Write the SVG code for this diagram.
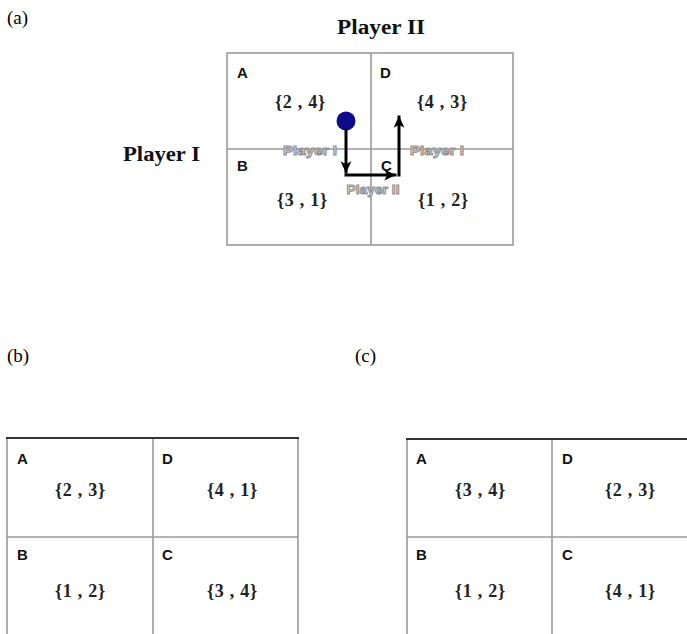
<svg xmlns="http://www.w3.org/2000/svg" width="687" height="634" viewBox="0 0 687 634">
<style>
.pl{font-family:"Liberation Serif","Times New Roman",serif;font-size:19px;fill:#000}
.hd{font-family:"Liberation Serif","Times New Roman",serif;font-size:20px;font-weight:bold;fill:#111}
.pay{font-family:"Liberation Serif","Times New Roman",serif;font-size:18px;font-weight:bold;fill:#222;text-anchor:middle}
.cl{font-family:"Liberation Sans",Arial,sans-serif;font-size:15px;font-weight:900;fill:#111}
.gl{font-family:"Liberation Sans",Arial,sans-serif;font-size:12px;font-weight:bold;fill:#e6e6e6;stroke:#8c8c8c;stroke-width:0.9;text-anchor:middle}
.grid{stroke:#9a9a9a;stroke-width:1.6;fill:none}
.top{stroke:#333;stroke-width:2;fill:none}
.arr{stroke:#000;stroke-width:3;fill:none;stroke-linecap:square}
</style>
<defs>
<marker id="ah" viewBox="0 0 10 10" refX="9" refY="5" markerWidth="12" markerHeight="12" markerUnits="userSpaceOnUse" orient="auto">
<path d="M0,0.5 L10,5 L0,9.5 L2.5,5 z" fill="#000"/>
</marker>
</defs>
<rect width="687" height="634" fill="#fff"/>

<g id="panel-labels">
<text class="pl" x="7" y="24">(a)</text>
<text class="pl" x="7" y="362">(b)</text>
<text class="pl" x="355" y="362">(c)</text>
</g>

<g id="heading-player2"><text class="hd" x="337" y="34" textLength="88" lengthAdjust="spacingAndGlyphs">Player II</text></g>
<g id="heading-player1"><text class="hd" x="123" y="161" textLength="77" lengthAdjust="spacingAndGlyphs">Player I</text></g>

<g id="table-a">
<rect class="grid" x="227" y="53" width="286" height="192"/>
<line class="grid" x1="371" y1="53" x2="371" y2="245"/>
<line class="grid" x1="227" y1="149" x2="513" y2="149"/>
<g id="a-cell-A"><text class="cl" x="237" y="78">A</text><text class="pay" x="300" y="108" textLength="50" lengthAdjust="spacing">{2 , 4}</text></g>
<g id="a-cell-D"><text class="cl" x="380" y="78">D</text><text class="pay" x="442" y="108" textLength="50" lengthAdjust="spacing">{4 , 3}</text></g>
<g id="a-cell-B"><text class="cl" x="237" y="171">B</text><text class="pay" x="302" y="206" textLength="50" lengthAdjust="spacing">{3 , 1}</text></g>
<g id="a-cell-C"><text class="cl" x="381" y="171">C</text><text class="pay" x="443" y="206" textLength="50" lengthAdjust="spacing">{1 , 2}</text></g>
</g>

<g id="start-dot"><circle cx="346" cy="121" r="9.5" fill="#0b0b8c"/></g>

<g id="connectors">
<line class="arr" x1="346" y1="130" x2="346" y2="172" marker-end="url(#ah)"/>
<line class="arr" x1="346" y1="175" x2="395" y2="175" marker-end="url(#ah)"/>
<line class="arr" x1="399" y1="175" x2="399" y2="117" marker-end="url(#ah)"/>
<text class="gl" x="310" y="155" textLength="54" lengthAdjust="spacingAndGlyphs">Player I</text>
<text class="gl" x="437" y="155" textLength="54" lengthAdjust="spacingAndGlyphs">Player I</text>
<text class="gl" x="373" y="194" textLength="53" lengthAdjust="spacingAndGlyphs">Player II</text>
</g>

<g id="table-b">
<line class="grid" x1="7" y1="438" x2="7" y2="634"/>
<line class="grid" x1="153" y1="438" x2="153" y2="634"/>
<line class="grid" x1="298" y1="438" x2="298" y2="634"/>
<line class="grid" x1="7" y1="537" x2="298" y2="537"/>
<line class="top" x1="6" y1="438" x2="299" y2="438"/>
<g id="b-cell-A"><text class="cl" x="17" y="464">A</text><text class="pay" x="80" y="496" textLength="50" lengthAdjust="spacing">{2 , 3}</text></g>
<g id="b-cell-D"><text class="cl" x="162" y="464">D</text><text class="pay" x="232" y="496" textLength="50" lengthAdjust="spacing">{4 , 1}</text></g>
<g id="b-cell-B"><text class="cl" x="17" y="560">B</text><text class="pay" x="80" y="597" textLength="50" lengthAdjust="spacing">{1 , 2}</text></g>
<g id="b-cell-C"><text class="cl" x="162" y="560">C</text><text class="pay" x="232" y="597" textLength="50" lengthAdjust="spacing">{3 , 4}</text></g>
</g>

<g id="table-c">
<line class="grid" x1="407" y1="439" x2="407" y2="634"/>
<line class="grid" x1="552" y1="439" x2="552" y2="634"/>
<line class="grid" x1="407" y1="537" x2="687" y2="537"/>
<line class="top" x1="406" y1="439" x2="687" y2="439"/>
<g id="c-cell-A"><text class="cl" x="416" y="464">A</text><text class="pay" x="480" y="496" textLength="50" lengthAdjust="spacing">{3 , 4}</text></g>
<g id="c-cell-D"><text class="cl" x="562" y="464">D</text><text class="pay" x="630" y="496" textLength="50" lengthAdjust="spacing">{2 , 3}</text></g>
<g id="c-cell-B"><text class="cl" x="416" y="560">B</text><text class="pay" x="480" y="597" textLength="50" lengthAdjust="spacing">{1 , 2}</text></g>
<g id="c-cell-C"><text class="cl" x="562" y="560">C</text><text class="pay" x="630" y="597" textLength="50" lengthAdjust="spacing">{4 , 1}</text></g>
</g>
</svg>
